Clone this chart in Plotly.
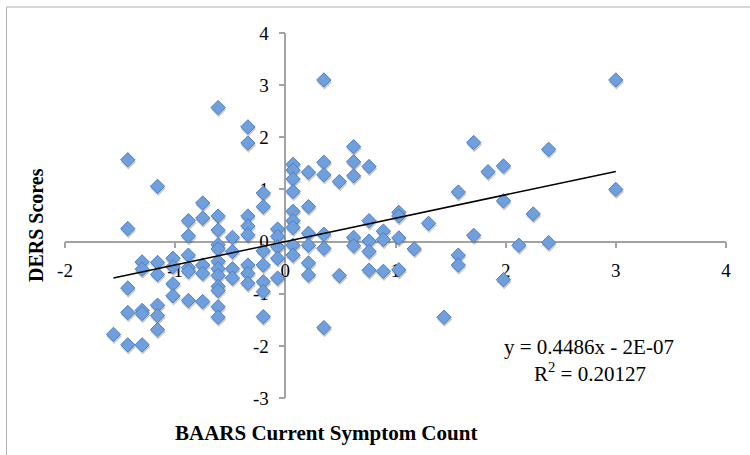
import plotly.graph_objects as go

# Standardised scores, one entry per participant
baars = (
    [-1.56]
    + [-1.43] * 5
    + [-1.30] * 5
    + [-1.16] * 6
    + [-1.02] * 4
    + [-0.88] * 6
    + [-0.75] * 5
    + [-0.61] * 12
    + [-0.48] * 4
    + [-0.34] * 8
    + [-0.20] * 7
    + [-0.07] * 5
    + [0.07] * 9
    + [0.21] * 6
    + [0.35] * 6
    + [0.49] * 2
    + [0.62] * 5
    + [0.76] * 5
    + [0.89] * 3
    + [1.03] * 4
    + [1.17]
    + [1.30]
    + [1.44]
    + [1.57] * 3
    + [1.71] * 2
    + [1.84]
    + [1.98] * 3
    + [2.12]
    + [2.25]
    + [2.39] * 2
    + [3.00] * 2
)

ders = [
    -1.78,
    1.57, 0.25, -0.89, -1.36, -1.98,
    -0.39, -0.53, -1.32, -1.38, -1.98,
    1.06, -0.40, -0.63, -1.22, -1.42, -1.69,
    -0.32, -0.48, -0.81, -1.04,
    0.40, 0.11, -0.26, -0.50, -0.57, -1.13,
    0.74, 0.45, -0.45, -0.61, -1.15,
    2.57, 0.49, 0.22, -0.06, -0.14, -0.38, -0.52, -0.65, -0.86, -0.94, -1.25, -1.45,
    0.08, -0.19, -0.52, -0.70,
    2.20, 1.89, 0.49, 0.30, 0.13, -0.45, -0.61, -0.80,
    0.93, 0.67, -0.18, -0.45, -0.77, -0.96, -1.44,
    0.24, 0.10, -0.10, -0.32, -0.70,
    1.48, 1.37, 1.20, 0.96, 0.58, 0.40, 0.27, -0.07, -0.26,
    1.33, 0.67, 0.16, -0.07, -0.41, -0.64,
    3.10, 1.52, 1.28, 0.14, -0.13, -1.65,
    1.15, -0.65,
    1.82, 1.53, 1.26, 0.08, -0.08,
    1.44, 0.40, 0.01, -0.19, -0.55,
    0.20, 0.04, -0.57,
    0.56, 0.49, 0.07, -0.54,
    -0.14,
    0.35,
    -1.45,
    0.95, -0.26, -0.45,
    1.90, 0.12,
    1.34,
    1.45, 0.78, -0.73,
    -0.07,
    0.53,
    1.77, -0.02,
    3.10, 1.00,
]

# Linear trendline as reported
slope = 0.4486
intercept = -2e-07
r_squared = 0.20127

x_ticks = [-2, -1, 0, 1, 2, 3, 4]
y_ticks = [-3, -2, -1, 0, 1, 2, 3, 4]
x_title = "BAARS Current Symptom Count"
y_title = "DERS Scores"

W, H = 750, 455
ML, MR, MT, MB = 65, 24, 33, 57
PW, PH = W - ML - MR, H - MT - MB
X_RANGE = [-2, 4]
Y_RANGE = [-3, 4]


def px_to_paper_x(px):
    return (px - ML) / PW


def px_to_paper_y(py):
    return (H - MB - py) / PH


SERIF = "Liberation Serif, DejaVu Serif, serif"
AXIS_GREY = "#a3a3a3"

# soft drop shadow below each marker (about 2 px down)
shadow_dy = 2.2 * (Y_RANGE[1] - Y_RANGE[0]) / PH
shadow_dx = 0.6 * (X_RANGE[1] - X_RANGE[0]) / PW

fig = go.Figure()

fig.add_trace(go.Scatter(
    x=[v + shadow_dx for v in baars],
    y=[v - shadow_dy for v in ders],
    mode="markers",
    marker=dict(symbol="diamond", size=11.5, color="rgba(60,60,60,0.28)",
                line=dict(width=0)),
    hoverinfo="skip",
    showlegend=False,
))

fig.add_trace(go.Scatter(
    x=baars,
    y=ders,
    mode="markers",
    marker=dict(symbol="diamond", size=11, color="#6f9fdc",
                line=dict(width=1, color="#4d7fc0")),
    showlegend=False,
))

x_lo, x_hi = min(baars), max(baars)
fig.add_trace(go.Scatter(
    x=[x_lo, x_hi],
    y=[slope * x_lo + intercept, slope * x_hi + intercept],
    mode="lines",
    line=dict(color="black", width=1.5),
    hoverinfo="skip",
    showlegend=False,
))

axis_common = dict(
    showgrid=False,
    zeroline=False,
    showline=True,
    linecolor=AXIS_GREY,
    linewidth=1.5,
    ticks="outside",
    ticklen=6,
    tickwidth=1.5,
    tickcolor=AXIS_GREY,
    tickfont=dict(family=SERIF, size=19, color="black"),
    anchor="free",
    layer="below traces",
)

fig.update_layout(
    width=W,
    height=H,
    margin=dict(l=ML, r=MR, t=MT, b=MB),
    paper_bgcolor="white",
    plot_bgcolor="white",
    xaxis=dict(
        axis_common,
        range=X_RANGE,
        tickvals=x_ticks,
        ticktext=[str(v) for v in x_ticks],
        position=(0 - Y_RANGE[0]) / (Y_RANGE[1] - Y_RANGE[0]),
        ticklabelstandoff=6,
    ),
    yaxis=dict(
        axis_common,
        range=Y_RANGE,
        tickvals=y_ticks,
        ticktext=[str(v) for v in y_ticks],
        position=(0 - X_RANGE[0]) / (X_RANGE[1] - X_RANGE[0]),
        ticklabelstandoff=6,
    ),
)

# equation and R² of the fit
eq_text = f"y = {slope}x - 2E-07"
fig.add_annotation(
    x=px_to_paper_x(589), y=px_to_paper_y(347), xref="paper", yref="paper",
    text=eq_text, showarrow=False, xanchor="center", yanchor="middle",
    font=dict(family=SERIF, size=21, color="black"),
)
fig.add_annotation(
    x=px_to_paper_x(590), y=px_to_paper_y(372), xref="paper", yref="paper",
    text=f"R<sup>2</sup> = {r_squared}", showarrow=False,
    xanchor="center", yanchor="middle",
    font=dict(family=SERIF, size=21, color="black"),
)

# axis titles
fig.add_annotation(
    x=px_to_paper_x(36), y=px_to_paper_y(225), xref="paper", yref="paper",
    text=f"<b>{y_title}</b>", showarrow=False, textangle=-90,
    xanchor="center", yanchor="middle",
    font=dict(family=SERIF, size=20, color="black"),
)
fig.add_annotation(
    x=px_to_paper_x(326), y=px_to_paper_y(433), xref="paper", yref="paper",
    text=f"<b>{x_title}</b>", showarrow=False,
    xanchor="center", yanchor="middle",
    font=dict(family=SERIF, size=21, color="black"),
)

# outer chart frame (left and top edges)
frame = dict(color="#b0b0b0", width=1)
fig.add_shape(type="line", xref="paper", yref="paper",
              x0=px_to_paper_x(6.5), x1=px_to_paper_x(6.5),
              y0=px_to_paper_y(7), y1=px_to_paper_y(H + 2), line=frame)
fig.add_shape(type="line", xref="paper", yref="paper",
              x0=px_to_paper_x(6.5), x1=px_to_paper_x(W + 2),
              y0=px_to_paper_y(7), y1=px_to_paper_y(7), line=frame)

fig.write_html("out.html")
